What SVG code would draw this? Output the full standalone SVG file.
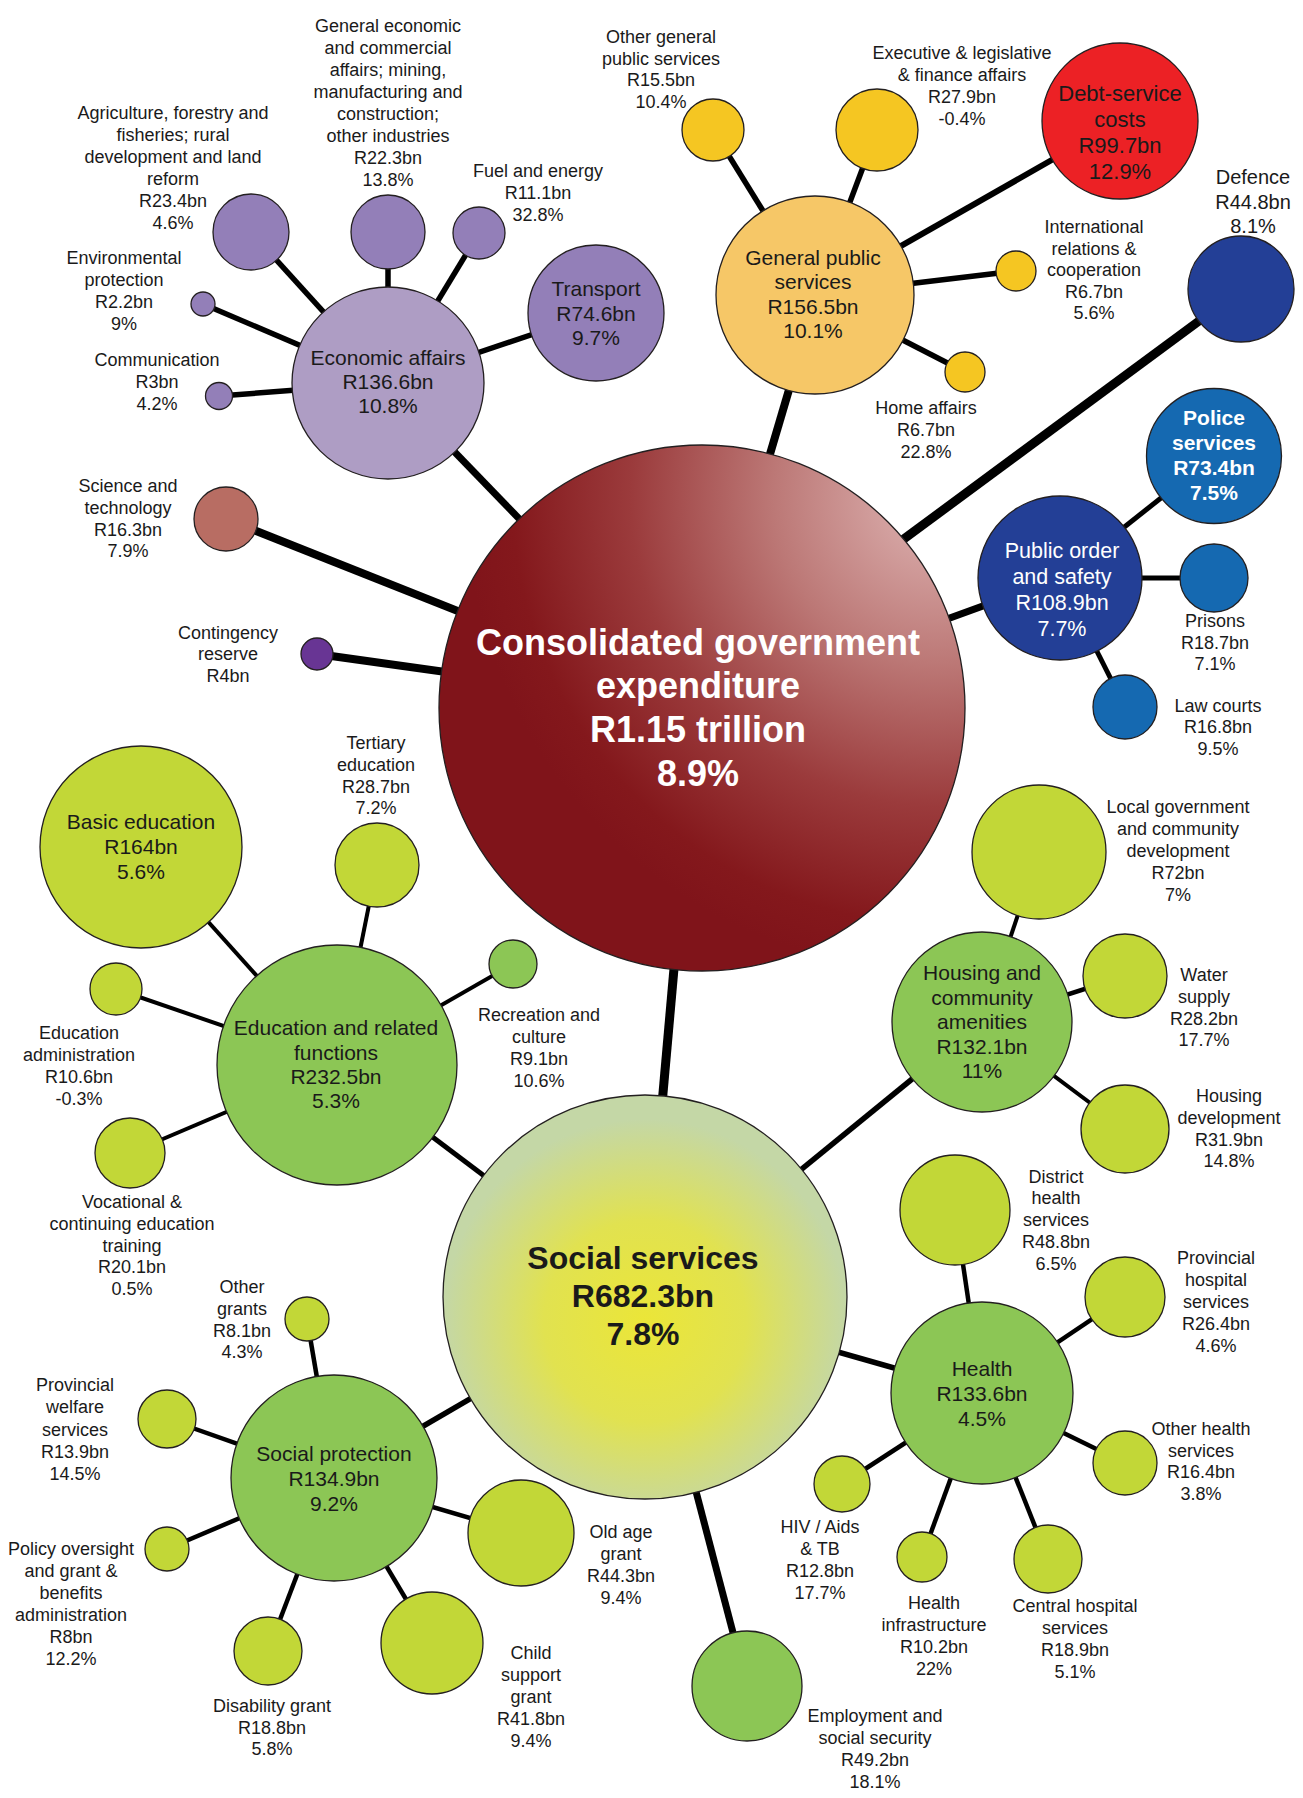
<svg xmlns="http://www.w3.org/2000/svg" width="1303" height="1798" viewBox="0 0 1303 1798">
<defs>
<radialGradient id="gCons" cx="0.95" cy="0.1" r="0.9">
<stop offset="0" stop-color="#dfb6b5"/>
<stop offset="0.35" stop-color="#bc7876"/>
<stop offset="0.65" stop-color="#9b3b3c"/>
<stop offset="0.9" stop-color="#84181c"/>
<stop offset="1" stop-color="#80141a"/>
</radialGradient>
<radialGradient id="gSoc" cx="0.5" cy="0.56" r="0.5">
<stop offset="0" stop-color="#ebe638"/>
<stop offset="0.5" stop-color="#e1e250"/>
<stop offset="1" stop-color="#c4d7a6"/>
</radialGradient>
</defs>
<style>
text{font-family:"Liberation Sans",Arial,sans-serif;text-anchor:middle;fill:#1a1a1a}
.lb{font-size:18px}
.nd{font-size:21px}
.w{fill:#ffffff}
.b{font-weight:bold}
circle{stroke:#231f20;stroke-width:1.3}
.pl{fill:#ae9dc4}
.pd{fill:#937fb8}
.yo{fill:#f6c767}
.yc{fill:#f5c622}
.rd{fill:#ec2125}
.db{fill:#233f96}
.mb{fill:#1569b1}
.yg{fill:#c2d737}
.mg{fill:#8cc655}
line{stroke:#000000;stroke-linecap:butt}
</style>
<g id="connectors">
<line x1="702" y1="708" x2="388" y2="383" stroke-width="7"/>
<line x1="695" y1="708" x2="817" y2="295" stroke-width="8"/>
<line x1="702" y1="688" x2="1241" y2="290" stroke-width="9"/>
<line x1="702" y1="708" x2="1060" y2="578" stroke-width="7"/>
<line x1="702" y1="708" x2="226" y2="519" stroke-width="8"/>
<line x1="702" y1="708" x2="317" y2="654" stroke-width="8"/>
<line x1="697" y1="708" x2="645" y2="1297" stroke-width="9"/>
<line x1="388" y1="383" x2="251" y2="232" stroke-width="5.5"/>
<line x1="388" y1="383" x2="388" y2="232" stroke-width="5.5"/>
<line x1="388" y1="383" x2="479" y2="233" stroke-width="5.5"/>
<line x1="388" y1="383" x2="596" y2="313" stroke-width="5.5"/>
<line x1="388" y1="383" x2="203" y2="304" stroke-width="5.5"/>
<line x1="388" y1="383" x2="219" y2="396" stroke-width="5.5"/>
<line x1="815" y1="295" x2="713" y2="130" stroke-width="5.5"/>
<line x1="815" y1="295" x2="877" y2="130" stroke-width="5.5"/>
<line x1="815" y1="295" x2="1120" y2="121" stroke-width="6"/>
<line x1="815" y1="295" x2="1016" y2="271" stroke-width="5.5"/>
<line x1="815" y1="295" x2="965" y2="372" stroke-width="5.5"/>
<line x1="1060" y1="578" x2="1214" y2="456" stroke-width="5"/>
<line x1="1060" y1="578" x2="1214" y2="578" stroke-width="5"/>
<line x1="1060" y1="578" x2="1125" y2="707" stroke-width="5"/>
<line x1="645" y1="1297" x2="337" y2="1065" stroke-width="5"/>
<line x1="645" y1="1297" x2="982" y2="1022" stroke-width="5.5"/>
<line x1="645" y1="1297" x2="982" y2="1393" stroke-width="5.5"/>
<line x1="645" y1="1297" x2="334" y2="1478" stroke-width="5.5"/>
<line x1="645" y1="1297" x2="747" y2="1686" stroke-width="7"/>
<line x1="337" y1="1065" x2="141" y2="847" stroke-width="4"/>
<line x1="337" y1="1065" x2="377" y2="865" stroke-width="4"/>
<line x1="337" y1="1065" x2="513" y2="964" stroke-width="4"/>
<line x1="337" y1="1065" x2="116" y2="989" stroke-width="4"/>
<line x1="337" y1="1065" x2="130" y2="1153" stroke-width="4"/>
<line x1="982" y1="1022" x2="1039" y2="852" stroke-width="4"/>
<line x1="982" y1="1022" x2="1125" y2="976" stroke-width="4.5"/>
<line x1="982" y1="1022" x2="1125" y2="1129" stroke-width="4"/>
<line x1="982" y1="1393" x2="955" y2="1210" stroke-width="4.5"/>
<line x1="982" y1="1393" x2="1125" y2="1297" stroke-width="4.5"/>
<line x1="982" y1="1393" x2="1125" y2="1463" stroke-width="4.5"/>
<line x1="982" y1="1393" x2="1048" y2="1559" stroke-width="4.5"/>
<line x1="982" y1="1393" x2="922" y2="1557" stroke-width="4.5"/>
<line x1="982" y1="1393" x2="842" y2="1484" stroke-width="4.5"/>
<line x1="334" y1="1478" x2="307" y2="1319" stroke-width="4.5"/>
<line x1="334" y1="1478" x2="167" y2="1419" stroke-width="4.5"/>
<line x1="334" y1="1478" x2="167" y2="1549" stroke-width="4.5"/>
<line x1="334" y1="1478" x2="268" y2="1651" stroke-width="4.5"/>
<line x1="334" y1="1478" x2="432" y2="1643" stroke-width="4.5"/>
<line x1="334" y1="1478" x2="521" y2="1533" stroke-width="4.5"/>
</g>

<g id="consolidated">
<circle cx="702" cy="708" r="263" fill="url(#gCons)" stroke="#000" stroke-width="10"/>
<text class="w b" font-size="36"><tspan x="698" y="655">Consolidated government</tspan><tspan x="698" y="698">expenditure</tspan><tspan x="698" y="742">R1.15 trillion</tspan><tspan x="698" y="786">8.9%</tspan></text>
</g>

<g id="economic-affairs">
<circle class="pl" cx="388" cy="383" r="96"/>
<text class="nd"><tspan x="388" y="364.5">Economic affairs</tspan><tspan x="388" y="388.5">R136.6bn</tspan><tspan x="388" y="412.5">10.8%</tspan></text>
</g>
<g id="agriculture">
<circle class="pd" cx="251" cy="232" r="38"/>
<text class="lb"><tspan x="173" y="119">Agriculture, forestry and</tspan><tspan x="173" y="141">fisheries; rural</tspan><tspan x="173" y="163">development and land</tspan><tspan x="173" y="185">reform</tspan><tspan x="173" y="207">R23.4bn</tspan><tspan x="173" y="229">4.6%</tspan></text>
</g>
<g id="general-economic">
<circle class="pd" cx="388" cy="232" r="37"/>
<text class="lb"><tspan x="388" y="32">General economic</tspan><tspan x="388" y="54">and commercial</tspan><tspan x="388" y="76">affairs; mining,</tspan><tspan x="388" y="98">manufacturing and</tspan><tspan x="388" y="120">construction;</tspan><tspan x="388" y="142">other industries</tspan><tspan x="388" y="164">R22.3bn</tspan><tspan x="388" y="186">13.8%</tspan></text>
</g>
<g id="fuel-energy">
<circle class="pd" cx="479" cy="233" r="26"/>
<text class="lb"><tspan x="538" y="177">Fuel and energy</tspan><tspan x="538" y="199">R11.1bn</tspan><tspan x="538" y="221">32.8%</tspan></text>
</g>
<g id="transport">
<circle class="pd" cx="596" cy="313" r="68"/>
<text class="nd"><tspan x="596" y="295.5">Transport</tspan><tspan x="596" y="320.5">R74.6bn</tspan><tspan x="596" y="344.5">9.7%</tspan></text>
</g>
<g id="environmental">
<circle class="pd" cx="203" cy="304" r="12"/>
<text class="lb"><tspan x="124" y="264">Environmental</tspan><tspan x="124" y="286">protection</tspan><tspan x="124" y="308">R2.2bn</tspan><tspan x="124" y="330">9%</tspan></text>
</g>
<g id="communication">
<circle class="pd" cx="219" cy="396" r="13.5"/>
<text class="lb"><tspan x="157" y="366">Communication</tspan><tspan x="157" y="388">R3bn</tspan><tspan x="157" y="410">4.2%</tspan></text>
</g>

<g id="general-public-services">
<circle class="yo" cx="815" cy="295" r="99"/>
<text class="nd"><tspan x="813" y="264.5">General public</tspan><tspan x="813" y="288.5">services</tspan><tspan x="813" y="313.5">R156.5bn</tspan><tspan x="813" y="337.5">10.1%</tspan></text>
</g>
<g id="other-general">
<circle class="yc" cx="713" cy="130" r="31"/>
<text class="lb"><tspan x="661" y="43">Other general</tspan><tspan x="661" y="65">public services</tspan><tspan x="661" y="86">R15.5bn</tspan><tspan x="661" y="108">10.4%</tspan></text>
</g>
<g id="executive">
<circle class="yc" cx="877" cy="130" r="41"/>
<text class="lb"><tspan x="962" y="59">Executive &amp; legislative</tspan><tspan x="962" y="81">&amp; finance affairs</tspan><tspan x="962" y="103">R27.9bn</tspan><tspan x="962" y="125">-0.4%</tspan></text>
</g>
<g id="debt-service">
<circle class="rd" cx="1120" cy="121" r="78"/>
<text font-size="22"><tspan x="1120" y="101">Debt-service</tspan><tspan x="1120" y="127">costs</tspan><tspan x="1120" y="153">R99.7bn</tspan><tspan x="1120" y="179">12.9%</tspan></text>
</g>
<g id="international">
<circle class="yc" cx="1016" cy="271" r="20"/>
<text class="lb"><tspan x="1094" y="233">International</tspan><tspan x="1094" y="255">relations &amp;</tspan><tspan x="1094" y="276">cooperation</tspan><tspan x="1094" y="298">R6.7bn</tspan><tspan x="1094" y="319">5.6%</tspan></text>
</g>
<g id="home-affairs">
<circle class="yc" cx="965" cy="372" r="20"/>
<text class="lb"><tspan x="926" y="414">Home affairs</tspan><tspan x="926" y="436">R6.7bn</tspan><tspan x="926" y="458">22.8%</tspan></text>
</g>

<g id="defence">
<circle class="db" cx="1241" cy="289" r="53"/>
<text font-size="20"><tspan x="1253" y="184">Defence</tspan><tspan x="1253" y="208.5">R44.8bn</tspan><tspan x="1253" y="233">8.1%</tspan></text>
</g>
<g id="public-order">
<circle class="db" cx="1060" cy="578" r="82"/>
<text class="w" font-size="21.5"><tspan x="1062" y="558">Public order</tspan><tspan x="1062" y="584">and safety</tspan><tspan x="1062" y="610">R108.9bn</tspan><tspan x="1062" y="636">7.7%</tspan></text>
</g>
<g id="police">
<circle class="mb" cx="1214" cy="456" r="67.5"/>
<text class="w b nd"><tspan x="1214" y="424.5">Police</tspan><tspan x="1214" y="449.5">services</tspan><tspan x="1214" y="474.5">R73.4bn</tspan><tspan x="1214" y="499.5">7.5%</tspan></text>
</g>
<g id="prisons">
<circle class="mb" cx="1214" cy="578" r="34"/>
<text class="lb"><tspan x="1215" y="627">Prisons</tspan><tspan x="1215" y="649">R18.7bn</tspan><tspan x="1215" y="670">7.1%</tspan></text>
</g>
<g id="law-courts">
<circle class="mb" cx="1125" cy="707" r="32"/>
<text class="lb"><tspan x="1218" y="712">Law courts</tspan><tspan x="1218" y="733">R16.8bn</tspan><tspan x="1218" y="755">9.5%</tspan></text>
</g>

<g id="science">
<circle cx="226" cy="519" r="32" fill="#b86d63"/>
<text class="lb"><tspan x="128" y="492">Science and</tspan><tspan x="128" y="514">technology</tspan><tspan x="128" y="536">R16.3bn</tspan><tspan x="128" y="557">7.9%</tspan></text>
</g>
<g id="contingency">
<circle cx="317" cy="654" r="16" fill="#683594"/>
<text class="lb"><tspan x="228" y="639">Contingency</tspan><tspan x="228" y="660">reserve</tspan><tspan x="228" y="682">R4bn</tspan></text>
</g>

<g id="social-services">
<circle cx="645" cy="1297" r="202" fill="url(#gSoc)" stroke="#000" stroke-width="9"/>
<text class="b" font-size="32"><tspan x="643" y="1268.5">Social services</tspan><tspan x="643" y="1306.5">R682.3bn</tspan><tspan x="643" y="1344.5">7.8%</tspan></text>
</g>

<g id="education">
<circle class="mg" cx="337" cy="1065" r="120"/>
<text class="nd"><tspan x="336" y="1034.5">Education and related</tspan><tspan x="336" y="1059.5">functions</tspan><tspan x="336" y="1083.5">R232.5bn</tspan><tspan x="336" y="1107.5">5.3%</tspan></text>
</g>
<g id="basic-education">
<circle class="yg" cx="141" cy="847" r="101"/>
<text class="nd"><tspan x="141" y="828.5">Basic education</tspan><tspan x="141" y="854">R164bn</tspan><tspan x="141" y="878.5">5.6%</tspan></text>
</g>
<g id="tertiary">
<circle class="yg" cx="377" cy="865" r="42"/>
<text class="lb"><tspan x="376" y="749">Tertiary</tspan><tspan x="376" y="771">education</tspan><tspan x="376" y="793">R28.7bn</tspan><tspan x="376" y="814">7.2%</tspan></text>
</g>
<g id="recreation">
<circle class="mg" cx="513" cy="964" r="24"/>
<text class="lb"><tspan x="539" y="1021">Recreation and</tspan><tspan x="539" y="1043">culture</tspan><tspan x="539" y="1065">R9.1bn</tspan><tspan x="539" y="1087">10.6%</tspan></text>
</g>
<g id="education-admin">
<circle class="yg" cx="116" cy="989" r="26"/>
<text class="lb"><tspan x="79" y="1039">Education</tspan><tspan x="79" y="1061">administration</tspan><tspan x="79" y="1083">R10.6bn</tspan><tspan x="79" y="1105">-0.3%</tspan></text>
</g>
<g id="vocational">
<circle class="yg" cx="130" cy="1153" r="35"/>
<text class="lb"><tspan x="132" y="1208">Vocational &amp;</tspan><tspan x="132" y="1230">continuing education</tspan><tspan x="132" y="1252">training</tspan><tspan x="132" y="1273">R20.1bn</tspan><tspan x="132" y="1295">0.5%</tspan></text>
</g>

<g id="housing">
<circle class="mg" cx="982" cy="1022" r="90"/>
<text class="nd"><tspan x="982" y="979.5">Housing and</tspan><tspan x="982" y="1004.5">community</tspan><tspan x="982" y="1028.5">amenities</tspan><tspan x="982" y="1053.5">R132.1bn</tspan><tspan x="982" y="1077.5">11%</tspan></text>
</g>
<g id="local-government">
<circle class="yg" cx="1039" cy="852" r="67"/>
<text class="lb"><tspan x="1178" y="813">Local government</tspan><tspan x="1178" y="835">and community</tspan><tspan x="1178" y="857">development</tspan><tspan x="1178" y="879">R72bn</tspan><tspan x="1178" y="901">7%</tspan></text>
</g>
<g id="water">
<circle class="yg" cx="1125" cy="976" r="42"/>
<text class="lb"><tspan x="1204" y="981">Water</tspan><tspan x="1204" y="1003">supply</tspan><tspan x="1204" y="1025">R28.2bn</tspan><tspan x="1204" y="1046">17.7%</tspan></text>
</g>
<g id="housing-development">
<circle class="yg" cx="1125" cy="1129" r="44"/>
<text class="lb"><tspan x="1229" y="1102">Housing</tspan><tspan x="1229" y="1124">development</tspan><tspan x="1229" y="1146">R31.9bn</tspan><tspan x="1229" y="1167">14.8%</tspan></text>
</g>

<g id="health">
<circle class="mg" cx="982" cy="1393" r="91"/>
<text class="nd"><tspan x="982" y="1375.5">Health</tspan><tspan x="982" y="1400.5">R133.6bn</tspan><tspan x="982" y="1425.5">4.5%</tspan></text>
</g>
<g id="district-health">
<circle class="yg" cx="955" cy="1210" r="55"/>
<text class="lb"><tspan x="1056" y="1183">District</tspan><tspan x="1056" y="1204">health</tspan><tspan x="1056" y="1226">services</tspan><tspan x="1056" y="1248">R48.8bn</tspan><tspan x="1056" y="1270">6.5%</tspan></text>
</g>
<g id="provincial-hospital">
<circle class="yg" cx="1125" cy="1297" r="40"/>
<text class="lb"><tspan x="1216" y="1264">Provincial</tspan><tspan x="1216" y="1286">hospital</tspan><tspan x="1216" y="1308">services</tspan><tspan x="1216" y="1330">R26.4bn</tspan><tspan x="1216" y="1352">4.6%</tspan></text>
</g>
<g id="other-health">
<circle class="yg" cx="1125" cy="1463" r="32"/>
<text class="lb"><tspan x="1201" y="1435">Other health</tspan><tspan x="1201" y="1457">services</tspan><tspan x="1201" y="1478">R16.4bn</tspan><tspan x="1201" y="1500">3.8%</tspan></text>
</g>
<g id="central-hospital">
<circle class="yg" cx="1048" cy="1559" r="34"/>
<text class="lb"><tspan x="1075" y="1612">Central hospital</tspan><tspan x="1075" y="1634">services</tspan><tspan x="1075" y="1656">R18.9bn</tspan><tspan x="1075" y="1678">5.1%</tspan></text>
</g>
<g id="health-infrastructure">
<circle class="yg" cx="922" cy="1557" r="25"/>
<text class="lb"><tspan x="934" y="1609">Health</tspan><tspan x="934" y="1631">infrastructure</tspan><tspan x="934" y="1653">R10.2bn</tspan><tspan x="934" y="1675">22%</tspan></text>
</g>
<g id="hiv-aids">
<circle class="yg" cx="842" cy="1484" r="28"/>
<text class="lb"><tspan x="820" y="1533">HIV / Aids</tspan><tspan x="820" y="1555">&amp; TB</tspan><tspan x="820" y="1577">R12.8bn</tspan><tspan x="820" y="1599">17.7%</tspan></text>
</g>

<g id="employment">
<circle class="mg" cx="747" cy="1686" r="55"/>
<text class="lb"><tspan x="875" y="1722">Employment and</tspan><tspan x="875" y="1744">social security</tspan><tspan x="875" y="1766">R49.2bn</tspan><tspan x="875" y="1788">18.1%</tspan></text>
</g>

<g id="social-protection">
<circle class="mg" cx="334" cy="1478" r="103"/>
<text class="nd"><tspan x="334" y="1460.5">Social protection</tspan><tspan x="334" y="1485.5">R134.9bn</tspan><tspan x="334" y="1510.5">9.2%</tspan></text>
</g>
<g id="other-grants">
<circle class="yg" cx="307" cy="1319" r="22"/>
<text class="lb"><tspan x="242" y="1293">Other</tspan><tspan x="242" y="1315">grants</tspan><tspan x="242" y="1337">R8.1bn</tspan><tspan x="242" y="1358">4.3%</tspan></text>
</g>
<g id="provincial-welfare">
<circle class="yg" cx="167" cy="1419" r="29"/>
<text class="lb"><tspan x="75" y="1391">Provincial</tspan><tspan x="75" y="1413">welfare</tspan><tspan x="75" y="1436">services</tspan><tspan x="75" y="1458">R13.9bn</tspan><tspan x="75" y="1480">14.5%</tspan></text>
</g>
<g id="policy-oversight">
<circle class="yg" cx="167" cy="1549" r="22"/>
<text class="lb"><tspan x="71" y="1555">Policy oversight</tspan><tspan x="71" y="1577">and grant &amp;</tspan><tspan x="71" y="1599">benefits</tspan><tspan x="71" y="1621">administration</tspan><tspan x="71" y="1643">R8bn</tspan><tspan x="71" y="1665">12.2%</tspan></text>
</g>
<g id="disability-grant">
<circle class="yg" cx="268" cy="1651" r="34"/>
<text class="lb"><tspan x="272" y="1712">Disability grant</tspan><tspan x="272" y="1734">R18.8bn</tspan><tspan x="272" y="1755">5.8%</tspan></text>
</g>
<g id="child-support">
<circle class="yg" cx="432" cy="1643" r="51"/>
<text class="lb"><tspan x="531" y="1659">Child</tspan><tspan x="531" y="1681">support</tspan><tspan x="531" y="1703">grant</tspan><tspan x="531" y="1725">R41.8bn</tspan><tspan x="531" y="1747">9.4%</tspan></text>
</g>
<g id="old-age-grant">
<circle class="yg" cx="521" cy="1533" r="53"/>
<text class="lb"><tspan x="621" y="1538">Old age</tspan><tspan x="621" y="1560">grant</tspan><tspan x="621" y="1582">R44.3bn</tspan><tspan x="621" y="1604">9.4%</tspan></text>
</g>
</svg>
